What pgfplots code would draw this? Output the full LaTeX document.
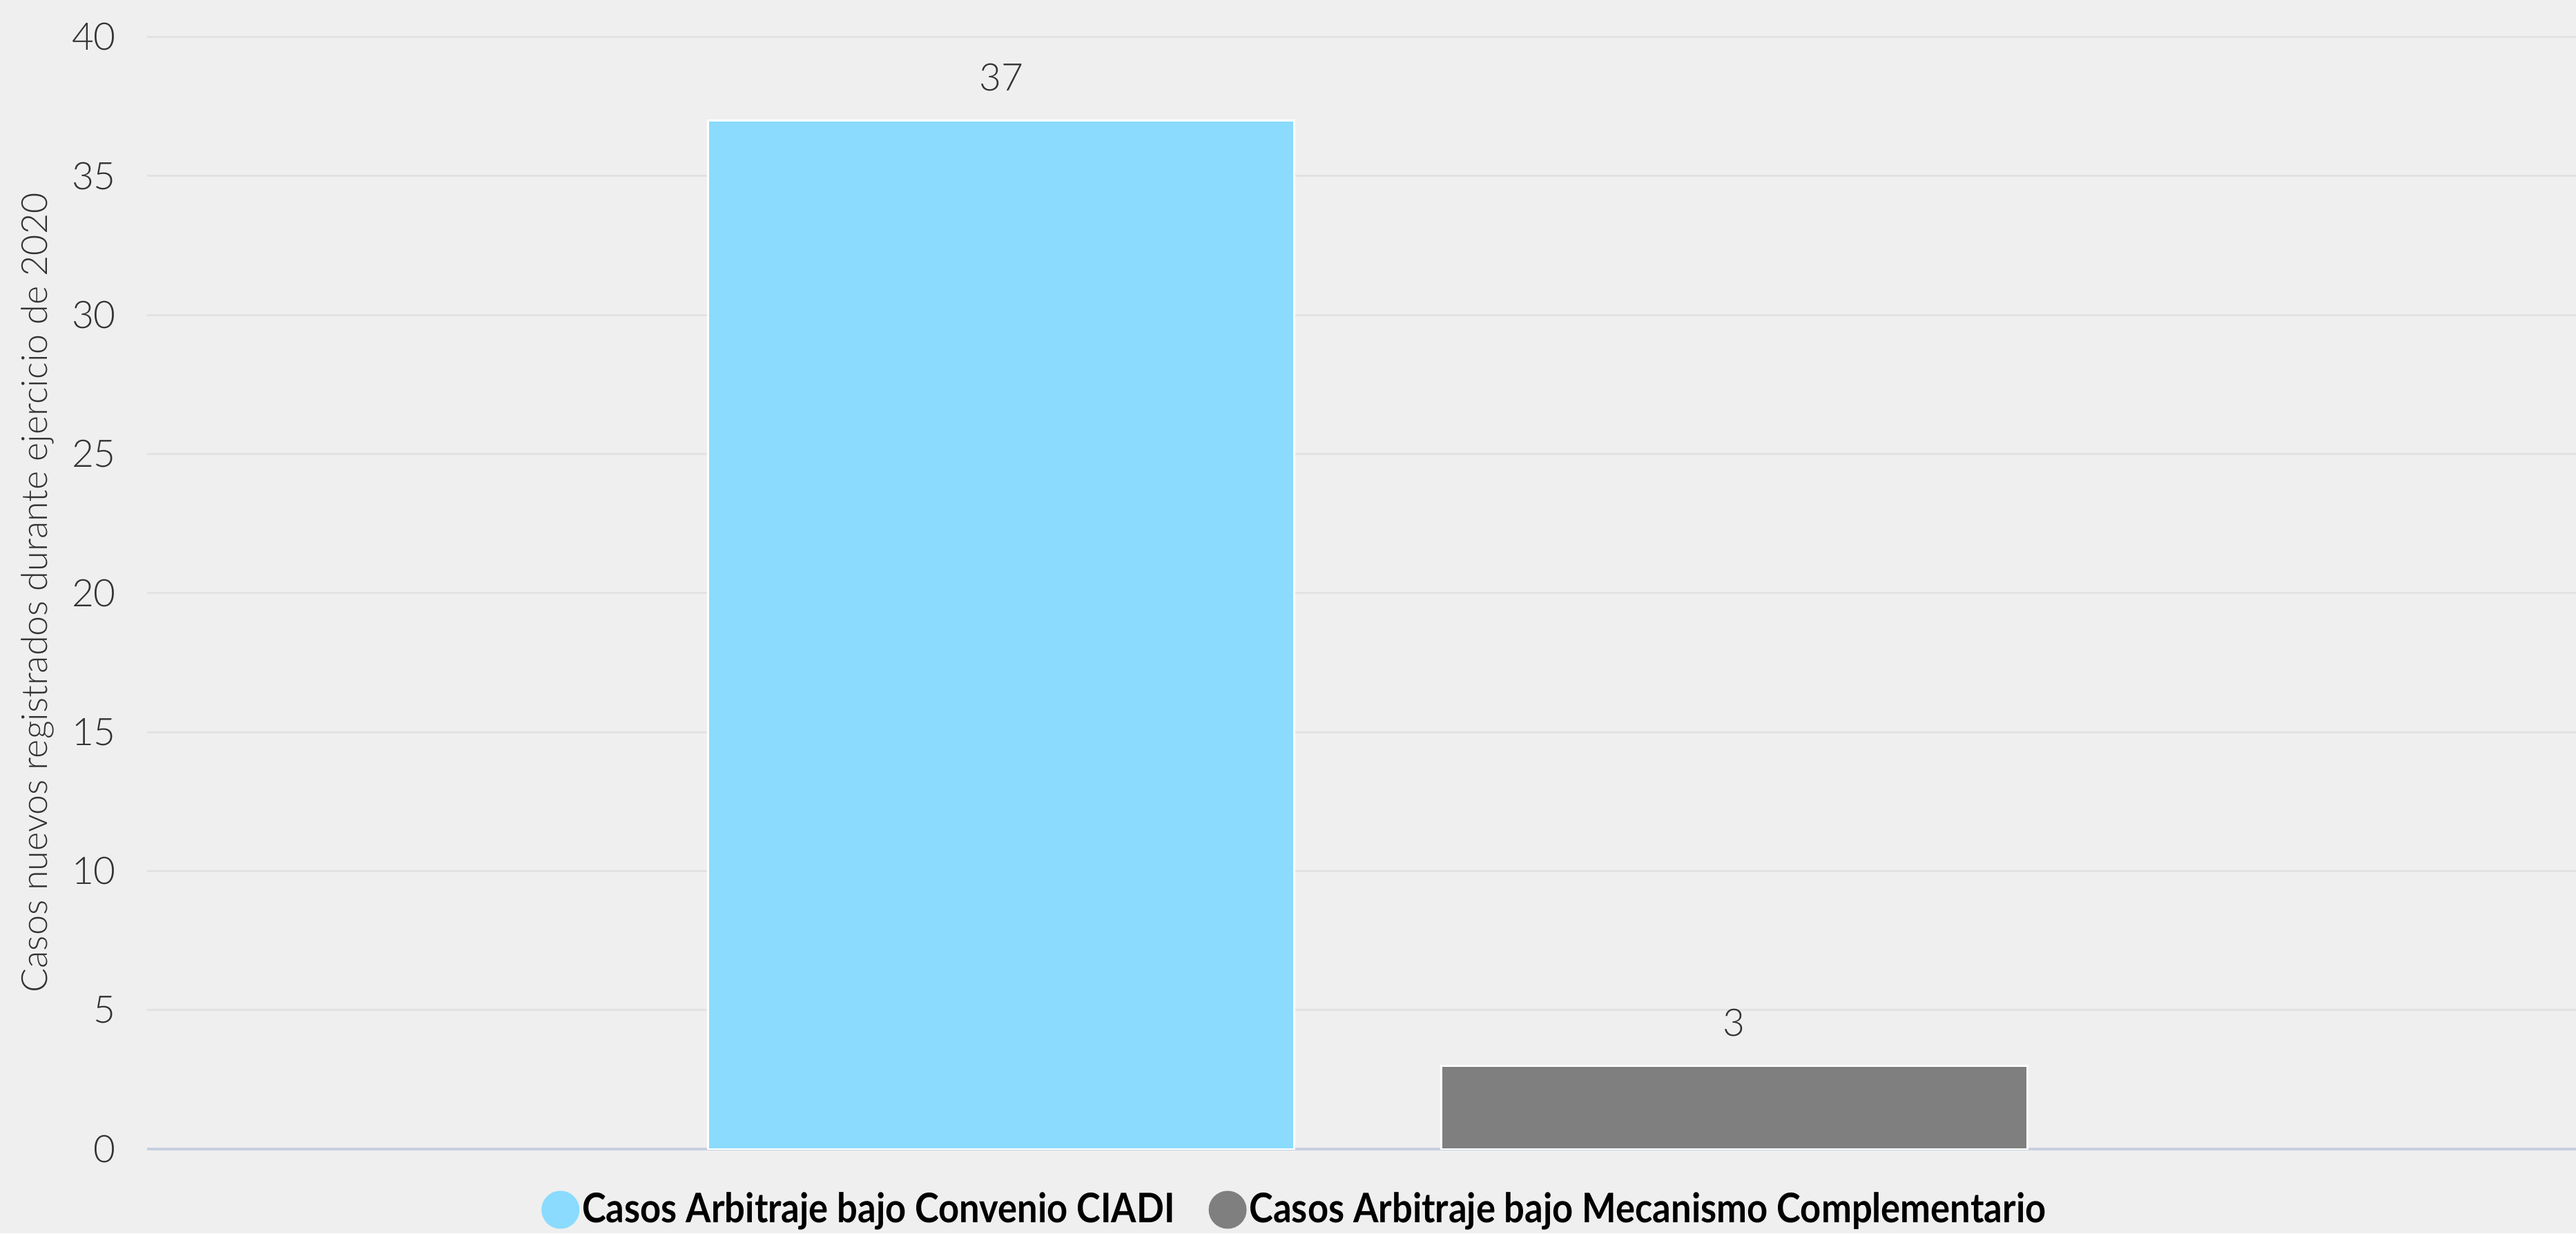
\documentclass[border=0pt]{standalone}
\usepackage{fontspec}
\setmainfont{Lato}[UprightFont=* Light, BoldFont=* Bold]
\newfontfamily\legfont{Lato Bold}[FakeStretch=0.89]
\usepackage{pgfplots}
\pgfplotsset{compat=1.18}

\definecolor{bg}{HTML}{EFEFEF}
\definecolor{gridc}{HTML}{E2E2E2}
\definecolor{basec}{HTML}{C6CFDE}
\definecolor{txt}{HTML}{333333}
\definecolor{ciadi}{HTML}{8ADBFE}
\definecolor{mgray}{HTML}{7F7F7F}

\begin{document}
\begin{tikzpicture}
\fill[bg] (0,0) rectangle (746.2pt,357.2pt);
\useasboundingbox (0,0) rectangle (746.2pt,357.2pt);
\begin{axis}[
    at={(42.6pt,24.4pt)}, anchor=south west,
    scale only axis, width=703.6pt, height=322.1pt,
    xmin=-1.166, xmax=2.149, ymin=0, ymax=40,
    ytick={0,5,...,40}, xtick=\empty,
    ymajorgrids, grid style={color=gridc, line width=0.6pt},
    axis x line*=bottom, axis y line*=left,
    y axis line style={draw=none},
    x axis line style={color=basec, line width=0.8pt, -},
    major tick length=0pt,
    /pgf/number format/assume math mode=true,
    tick label style={font=\fontsize{11}{13}\selectfont, color=txt},
    yticklabel style={xshift=-5.5pt},
    ylabel={Casos nuevos registrados durante ejercicio de 2020},
    ylabel style={at={(axis description cs:-0.0451,0.5)}, anchor=center,
        font=\fontsize{10.4}{12}\selectfont, color=txt},
    ybar, bar width=0.8, bar shift=0pt,
    legend image code/.code={\fill[draw=none] (5.5pt,0pt) circle (5.5pt);},
    nodes near coords,
    every node near coord/.append style={anchor=center, yshift=12.5pt,
        font=\fontsize{11}{13}\selectfont, color=txt},
    legend style={at={(0.4726,-0.0546)}, anchor=center, draw=none, fill=none,
        legend columns=-1, font=\legfont\fontsize{11.8}{13}\selectfont,
        nodes={inner xsep=0.8pt},
        /tikz/every even column/.append style={column sep=9pt}},
    legend cell align=left,
]
\addplot[fill=ciadi, draw=white, line width=0.6pt] coordinates {(0,37)};
\addplot[fill=mgray, draw=white, line width=0.6pt] coordinates {(1,3)};
\legend{Casos Arbitraje bajo Convenio CIADI, Casos Arbitraje bajo Mecanismo Complementario}
\end{axis}
\end{tikzpicture}
\end{document}
